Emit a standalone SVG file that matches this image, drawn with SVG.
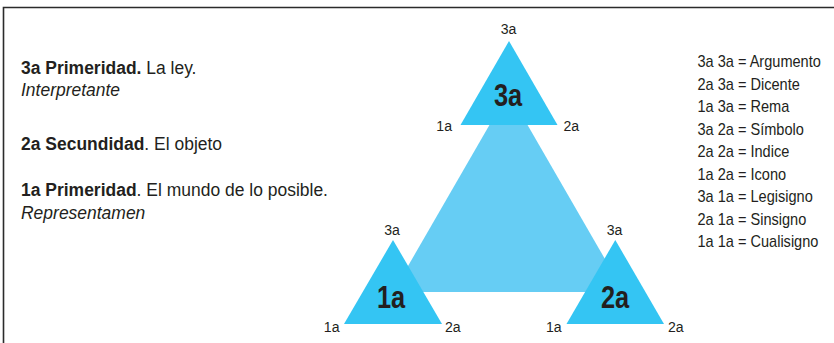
<svg xmlns="http://www.w3.org/2000/svg" width="834" height="343" viewBox="0 0 834 343">
  <style>
    text { font-family: "Liberation Sans", Arial, sans-serif; fill: #231f20; }
    .lbl { font-size: 15px; }
    .big { font-size: 31px; font-weight: bold; }
    .main { font-size: 19px; }
    .b { font-weight: bold; }
    .i { font-style: italic; }
    .leg { font-size: 16px; }
    .tri { fill: #34c5f3; }
    .bigtri { fill: #66cdf4; }
    .frame { fill: none; stroke: #2b2b2b; stroke-width: 1.6; }
  </style>
  <rect x="0" y="0" width="834" height="343" fill="#ffffff"/>
  <path class="frame" d="M3.5 343 V7.5 H834"/>

  <g id="intro-text">
    <text class="main" transform="translate(21,74) scale(0.92,1)"><tspan class="b">3a Primeridad.</tspan> La ley.</text>
    <text class="main i" transform="translate(21,96) scale(0.92,1)">Interpretante</text>
    <text class="main" transform="translate(21,150) scale(0.92,1)"><tspan class="b">2a Secundidad</tspan>. El objeto</text>
    <text class="main" transform="translate(21,196) scale(0.92,1)"><tspan class="b">1a Primeridad</tspan>. El mundo de lo posible.</text>
    <text class="main i" transform="translate(21,219) scale(0.92,1)">Representamen</text>
  </g>

  <g id="connectors">
    <polygon id="central-triangle" class="bigtri" points="393,292 624,292 508.5,92"/>
  </g>

  <g id="node-3a">
    <polygon class="tri" points="509,41 557.5,125 460.5,125"/>
    <text class="lbl" transform="translate(508.5,34) scale(0.94,1)" text-anchor="middle">3a</text>
    <text class="lbl" transform="translate(452,130.5) scale(0.94,1)" text-anchor="end">1a</text>
    <text class="lbl" transform="translate(563.5,130.5) scale(0.94,1)">2a</text>
    <text class="big" transform="translate(508,106) scale(0.82,1)" text-anchor="middle">3a</text>
  </g>

  <g id="node-1a">
    <polygon class="tri" points="393,240 442,324 344,324"/>
    <text class="lbl" transform="translate(392,234.5) scale(0.94,1)" text-anchor="middle">3a</text>
    <text class="lbl" transform="translate(339.5,331.5) scale(0.94,1)" text-anchor="end">1a</text>
    <text class="lbl" transform="translate(445,331.5) scale(0.94,1)">2a</text>
    <text class="big" transform="translate(391,308) scale(0.82,1)" text-anchor="middle">1a</text>
  </g>

  <g id="node-2a">
    <polygon class="tri" points="615.3,240 664,324 566.5,324"/>
    <text class="lbl" transform="translate(614.5,234.5) scale(0.94,1)" text-anchor="middle">3a</text>
    <text class="lbl" transform="translate(561.7,331.5) scale(0.94,1)" text-anchor="end">1a</text>
    <text class="lbl" transform="translate(668,331.5) scale(0.94,1)">2a</text>
    <text class="big" transform="translate(615,308) scale(0.82,1)" text-anchor="middle">2a</text>
  </g>

  <g id="legend">
    <text class="leg" transform="translate(697.5,67) scale(0.91,1)">3a 3a = Argumento</text>
    <text class="leg" transform="translate(697.5,89.5) scale(0.91,1)">2a 3a = Dicente</text>
    <text class="leg" transform="translate(697.5,112) scale(0.91,1)">1a 3a = Rema</text>
    <text class="leg" transform="translate(697.5,134.5) scale(0.91,1)">3a 2a = Símbolo</text>
    <text class="leg" transform="translate(697.5,157) scale(0.91,1)">2a 2a = Indice</text>
    <text class="leg" transform="translate(697.5,179.5) scale(0.91,1)">1a 2a = Icono</text>
    <text class="leg" transform="translate(697.5,202) scale(0.91,1)">3a 1a = Legisigno</text>
    <text class="leg" transform="translate(697.5,224.5) scale(0.91,1)">2a 1a = Sinsigno</text>
    <text class="leg" transform="translate(697.5,247) scale(0.91,1)">1a 1a = Cualisigno</text>
  </g>
</svg>
